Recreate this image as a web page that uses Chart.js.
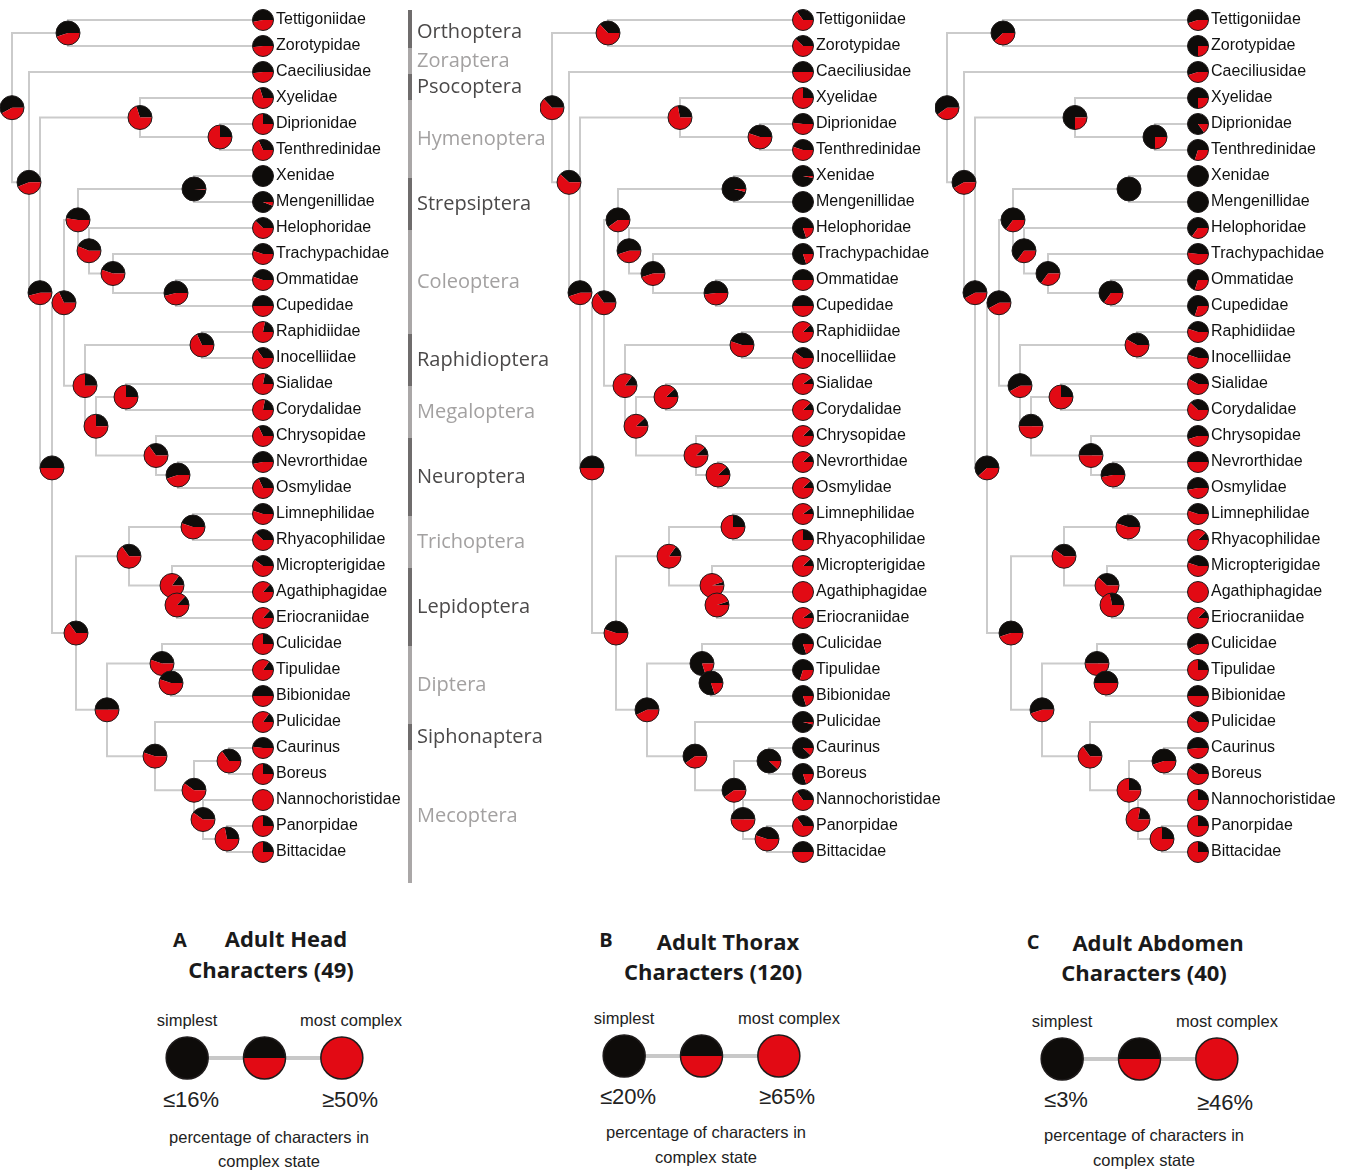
<!DOCTYPE html>
<html>
<head>
<meta charset="utf-8">
<script src="https://cdn.jsdelivr.net/npm/chart.js@4.4.1/dist/chart.umd.min.js"></script>
<style>
  html, body { margin: 0; padding: 0; background: #fff; }
  #page { position: relative; width: 1346px; height: 1170px; overflow: hidden; }
  #page canvas { position: absolute; }
  .t { position: absolute; white-space: nowrap; transform: translate(-50%, -50%); line-height: 1; }
  .letter { font-family: "Open Sans", sans-serif; font-weight: 700; font-size: 20px; color: #1a1a1a; }
  .head { font-family: "Open Sans", sans-serif; font-weight: 700; font-size: 22px; color: #1a1a1a; }
  .lab { font-family: "Liberation Sans", Arial, sans-serif; font-size: 16.5px; color: #222; }
  .pct { font-family: "Liberation Sans", Arial, sans-serif; font-size: 22px; color: #222; }
</style>
</head>
<body>
<div id="page"></div>
<script>
// ---- taxa (tips, top to bottom) ----
const tipNames = ['Tettigoniidae','Zorotypidae','Caeciliusidae','Xyelidae','Diprionidae','Tenthredinidae',
  'Xenidae','Mengenillidae','Helophoridae','Trachypachidae','Ommatidae','Cupedidae','Raphidiidae',
  'Inocelliidae','Sialidae','Corydalidae','Chrysopidae','Nevrorthidae','Osmylidae','Limnephilidae',
  'Rhyacophilidae','Micropterigidae','Agathiphagidae','Eriocraniidae','Culicidae','Tipulidae',
  'Bibionidae','Pulicidae','Caurinus','Boreus','Nannochoristidae','Panorpidae','Bittacidae'];

// ---- orders and the tip rows they cover ----
const orderNames = ['Orthoptera','Zoraptera','Psocoptera','Hymenoptera','Strepsiptera','Coleoptera',
  'Raphidioptera','Megaloptera','Neuroptera','Trichoptera','Lepidoptera','Diptera','Siphonaptera','Mecoptera'];
const orderFirst = [0, 1, 2, 3, 6, 8, 12, 14, 16, 19, 21, 24, 27, 28];
const orderLast  = [0, 1, 2, 5, 7, 11, 13, 15, 18, 20, 23, 26, 27, 32];

// ---- internal nodes: children (numbers = tips, strings = clades) and depth ----
const cladeNames = ['root','TZ','PsHo','Holo','Hym','DT','Apara','NCS','CS','Strep','Col','TrOC','OC',
  'Neurop','RI','MN','Meg','Neu','NO','Mecop','Amph','Tri','Lep','AE','Antl','Dip','TB','PM','Meco',
  'CB','NPB','PB'];
const cladeChildren = [['TZ','PsHo'],[0,1],[2,'Holo'],['Hym','Apara'],[3,'DT'],[4,5],['NCS','Mecop'],
  ['CS','Neurop'],['Strep','Col'],[6,7],[8,'TrOC'],[9,'OC'],[10,11],['RI','MN'],[12,13],['Meg','Neu'],
  [14,15],[16,'NO'],[17,18],['Amph','Antl'],['Tri','Lep'],[19,20],[21,'AE'],[22,23],['Dip','PM'],
  [24,'TB'],[25,26],[27,'Meco'],['CB','NPB'],[28,29],[30,'PB'],[31,32]];
const cladeDepth = [12,68,29,40,140,220,52,64,78,194,89,113,176,85,202,96,126,156,178,76,129,193,172,
  177,107,162,171,155,194,229,203,227];
const tipDepth = 263;

// ---- share of characters in the complex state (0..1) ----
const headTips    = [0.47,0.48,0.48,0.70,0.75,0.68,0.00,0.06,0.62,0.55,0.55,0.50,0.78,0.65,0.78,0.78,0.68,
  0.47,0.68,0.55,0.62,0.60,0.87,0.87,0.75,0.85,0.50,0.85,0.52,0.75,1.00,0.75,0.75];
const headClades  = [0.42,0.45,0.44,0.46,0.70,0.75,0.50,0.68,0.52,0.01,0.56,0.55,0.46,0.75,0.68,0.75,0.75,
  0.65,0.45,0.65,0.65,0.55,0.85,0.87,0.50,0.55,0.55,0.55,0.60,0.65,0.60,0.72];
const thoraxTips  = [0.65,0.62,0.50,0.75,0.52,0.55,0.03,0.00,0.20,0.20,0.50,0.50,0.88,0.60,0.90,0.88,0.88,
  0.88,0.88,0.90,0.75,0.88,1.00,0.90,0.20,0.30,0.20,0.04,0.12,0.20,0.65,0.65,0.50];
const thoraxClades= [0.63,0.63,0.62,0.45,0.72,0.55,0.50,0.65,0.40,0.04,0.45,0.45,0.48,0.85,0.55,0.88,0.88,
  0.88,0.88,0.55,0.85,0.75,0.95,0.95,0.43,0.20,0.20,0.40,0.40,0.12,0.50,0.55];
const abdomenTips = [0.45,0.25,0.45,0.25,0.15,0.30,0.00,0.00,0.35,0.52,0.30,0.30,0.55,0.55,0.58,0.62,0.45,
  0.50,0.47,0.55,0.88,0.55,1.00,0.88,0.42,0.75,0.50,0.60,0.48,0.60,0.75,0.75,0.75];
const abdomenClades=[0.40,0.38,0.42,0.42,0.25,0.25,0.38,0.42,0.35,0.00,0.35,0.35,0.35,0.42,0.58,0.50,0.75,
  0.50,0.47,0.45,0.60,0.55,0.62,0.72,0.45,0.50,0.50,0.65,0.75,0.45,0.78,0.75];

// ---- legend ----
const panelLetters = ['A','B','C'];
const panelTitles = ['Adult Head','Adult Thorax','Adult Abdomen'];
const characterCounts = [49, 120, 40];
const lowThresholds = ['\u226416%','\u226420%','\u22643%'];
const highThresholds = ['\u226550%','\u226565%','\u226546%'];
const legendShares = [0, 0.5, 1];

// ---------------------------------------------------------------
const BLACK = '#0e0c0a', RED = '#e20a14', BRANCH = '#cbcbcb';
Chart.defaults.animation = false;
Chart.defaults.devicePixelRatio = 1;

const cladeIndex = {};
cladeNames.forEach((n, i) => { cladeIndex[n] = i; });
function rowOf(c) {
  if (typeof c === 'number') return c;
  const kids = cladeChildren[cladeIndex[c]];
  return (rowOf(kids[0]) + rowOf(kids[1])) / 2;
}
function depthOf(c) { return typeof c === 'number' ? tipDepth : cladeDepth[cladeIndex[c]]; }

const branchPoints = [];
cladeNames.forEach((n, i) => {
  const [a, b] = cladeChildren[i];
  const x = cladeDepth[i];
  branchPoints.push({x: depthOf(a), y: rowOf(a)}, {x: x, y: rowOf(a)},
                    {x: x, y: rowOf(b)}, {x: depthOf(b), y: rowOf(b)}, {x: null, y: null});
});
const cladePoints = cladeNames.map((n, i) => ({x: cladeDepth[i], y: rowOf(n)}));
const tipPoints = tipNames.map((n, i) => ({x: tipDepth, y: i}));

function drawPie(ctx, x, y, R, red, lw) {
  ctx.save();
  if (red < 1) {
    ctx.beginPath(); ctx.moveTo(x, y);
    ctx.arc(x, y, R, 2 * Math.PI * red, 2 * Math.PI); ctx.closePath();
    ctx.fillStyle = BLACK; ctx.fill();
  }
  if (red > 0) {
    ctx.beginPath(); ctx.moveTo(x, y);
    ctx.arc(x, y, R, 0, 2 * Math.PI * red); ctx.closePath();
    ctx.fillStyle = RED; ctx.fill();
  }
  ctx.beginPath(); ctx.arc(x, y, R, 0, 2 * Math.PI);
  ctx.lineWidth = lw; ctx.strokeStyle = '#1e1b1b'; ctx.stroke();
  ctx.restore();
}

// draws pie glyphs at the positions the scatter datasets were laid out at
const piePlugin = {
  id: 'pies',
  afterDatasetsDraw(chart) {
    chart.data.datasets.forEach((ds, i) => {
      if (!ds.redShare) return;
      chart.getDatasetMeta(i).data.forEach((pt, j) => {
        drawPie(chart.ctx, pt.x, pt.y, ds.pieRadius, ds.redShare[j], ds.pieOutline || 1);
      });
    });
  }
};

// order bar and names beside the first tree
const orderPlugin = {
  id: 'orders',
  afterDraw(chart) {
    const ctx = chart.ctx, ys = chart.scales.y;
    const barX = chart.chartArea.right + 147;
    const shift = 15;
    ctx.save();
    orderNames.forEach((name, i) => {
      let top = ys.getPixelForValue(orderFirst[i] - 0.5) + shift;
      let bot = ys.getPixelForValue(orderLast[i] + 0.5) + shift;
      if (i === 0) top = ys.getPixelForValue(-0.5) + 3;
      if (i === orderNames.length - 1) bot = ys.getPixelForValue(tipNames.length - 0.5) + 18;
      const dark = i % 2 === 0;
      ctx.fillStyle = dark ? '#6f6c6c' : '#aaa7a7';
      ctx.fillRect(barX - 2, top, 4, bot - top);
      ctx.fillStyle = dark ? '#4b4949' : '#a3a1a1';
      ctx.font = '20px "Open Sans", sans-serif';
      ctx.textAlign = 'left'; ctx.textBaseline = 'middle';
      ctx.fillText(name, barX + 7, (top + bot) / 2 + (i === 0 ? 3 : 0));
    });
    ctx.restore();
  }
};

const page = document.getElementById('page');
function addCanvas(left, top, w, h) {
  const c = document.createElement('canvas');
  c.width = w; c.height = h;
  c.style.left = left + 'px'; c.style.top = top + 'px';
  c.style.width = w + 'px'; c.style.height = h + 'px';
  page.appendChild(c);
  return c;
}

function treeChart(left, width, tipRed, cladeRed, withOrders) {
  const canvas = addCanvas(left, 0, width, 890);
  const axisWidth = width - tipDepth;
  return new Chart(canvas, {
    type: 'scatter',
    data: {
      datasets: [
        {data: branchPoints, showLine: true, borderColor: BRANCH, borderWidth: 2,
         borderJoinStyle: 'miter', pointRadius: 0, pointHoverRadius: 0, spanGaps: false, clip: false},
        {data: cladePoints, pointRadius: 0, pointHoverRadius: 0, clip: false,
         redShare: cladeRed, pieRadius: 12},
        {data: tipPoints, pointRadius: 0, pointHoverRadius: 0, clip: false,
         redShare: tipRed, pieRadius: 10.5}
      ]
    },
    options: {
      responsive: false, events: [],
      layout: {padding: {top: 7, bottom: 25, left: 0, right: 0}},
      plugins: {legend: {display: false}, tooltip: {enabled: false}},
      scales: {
        x: {type: 'linear', min: 0, max: tipDepth, display: false},
        y: {type: 'linear', reverse: true, min: -0.5, max: tipNames.length - 0.5, position: 'right',
            grid: {display: false, drawTicks: false}, border: {display: false},
            afterBuildTicks: s => { s.ticks = tipNames.map((_, i) => ({value: i})); },
            afterFit: s => {
              s.width = axisWidth;
              s.paddingTop = 0; s.paddingBottom = 0; s.paddingLeft = 0; s.paddingRight = 0;
            },
            ticks: {autoSkip: false, padding: 13, color: '#111',
                    font: {family: '"Liberation Sans", Arial, sans-serif', size: 16},
                    callback: v => tipNames[v]}}
      }
    },
    plugins: withOrders ? [piePlugin, orderPlugin] : [piePlugin]
  });
}

treeChart(0, 560, headTips, headClades, true);
treeChart(540, 410, thoraxTips, thoraxClades, false);
treeChart(935, 411, abdomenTips, abdomenClades, false);

// ---- legends ----
const legendLayout = [
  {letter: [180, 940], title: [286, 938], count: [271, 969], simplest: [187, 1020], complex: [351, 1020],
   low: [191, 1100], high: [350, 1100], note1: [269, 1137], note2: [269, 1161], dots: [157, 1028]},
  {letter: [606, 940], title: [728, 941], count: [713, 971], simplest: [624, 1018], complex: [789, 1018],
   low: [628, 1097], high: [787, 1097], note1: [706, 1132], note2: [706, 1157], dots: [594, 1026]},
  {letter: [1033, 942], title: [1158, 942], count: [1144, 972], simplest: [1062, 1021], complex: [1227, 1021],
   low: [1066, 1100], high: [1225, 1103], note1: [1144, 1135], note2: [1144, 1160], dots: [1032, 1029]}
];
function addText(cls, txt, pos) {
  const d = document.createElement('div');
  d.className = 't ' + cls; d.textContent = txt;
  d.style.left = pos[0] + 'px'; d.style.top = pos[1] + 'px';
  page.appendChild(d);
}
legendLayout.forEach((L, p) => {
  addText('letter', panelLetters[p], L.letter);
  addText('head', panelTitles[p], L.title);
  addText('head', 'Characters (' + characterCounts[p] + ')', L.count);
  addText('lab', 'simplest', L.simplest);
  addText('lab', 'most complex', L.complex);
  addText('pct', lowThresholds[p], L.low);
  addText('pct', highThresholds[p], L.high);
  addText('lab', 'percentage of characters in', L.note1);
  addText('lab', 'complex state', L.note2);

  const canvas = addCanvas(L.dots[0], L.dots[1], 215, 60);
  const pts = legendShares.map((s, i) => ({x: i, y: 0}));
  new Chart(canvas, {
    type: 'scatter',
    data: {datasets: [
      {data: pts, showLine: true, borderColor: '#c8c8c8', borderWidth: 4, pointRadius: 0, clip: false},
      {data: pts, pointRadius: 0, clip: false, redShare: legendShares, pieRadius: 21, pieOutline: 1.5}
    ]},
    options: {
      responsive: false, events: [],
      layout: {padding: 0},
      plugins: {legend: {display: false}, tooltip: {enabled: false}},
      scales: {x: {type: 'linear', min: -0.39, max: 2.39, display: false},
               y: {type: 'linear', min: -1, max: 1, display: false}}
    },
    plugins: [piePlugin]
  });
});
</script>
</body>
</html>
